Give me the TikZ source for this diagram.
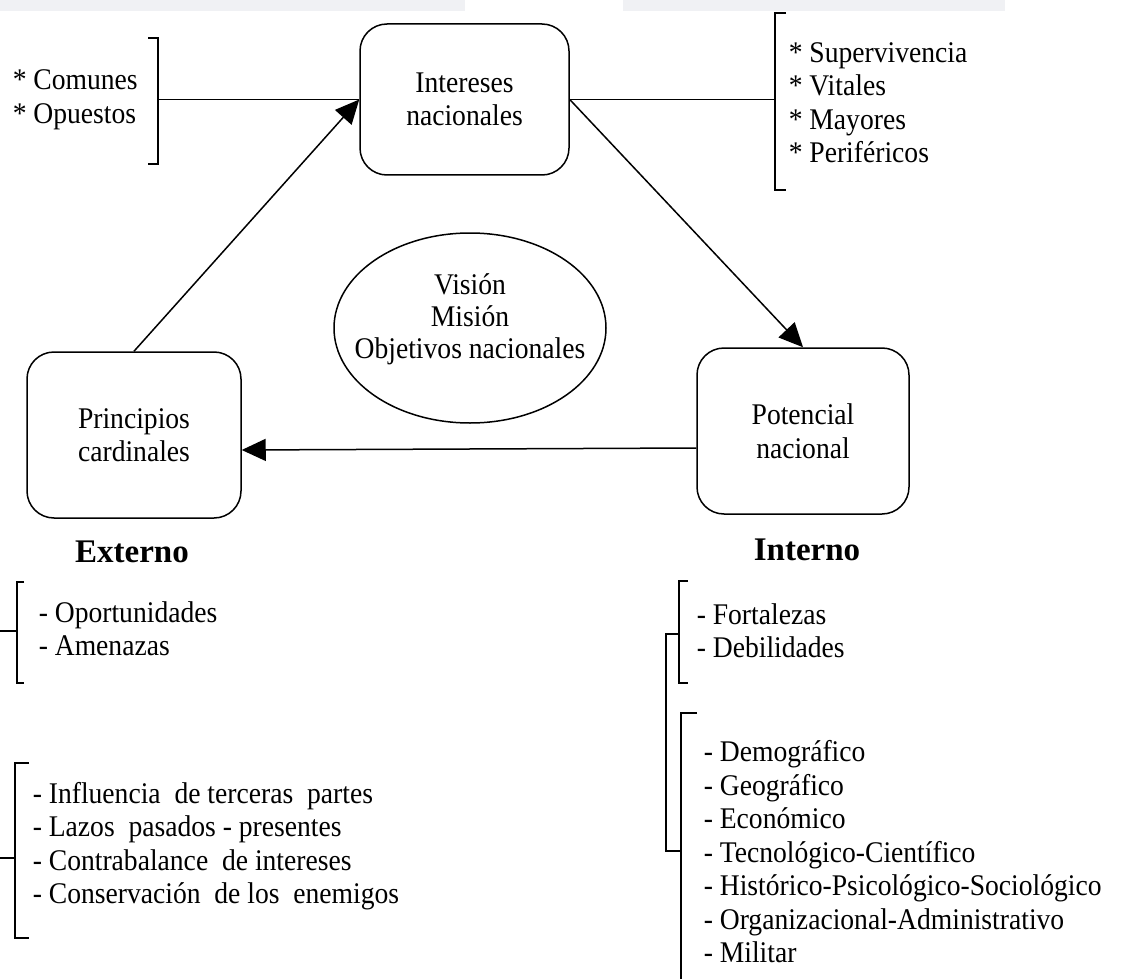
\documentclass[tikz,border=0pt]{standalone}
\usepackage{fontspec}
\setmainfont{Liberation Serif}[FakeStretch=0.92]
\newfontfamily\headfont{Liberation Serif}
\usetikzlibrary{shapes.geometric,arrows.meta}
\definecolor{bandgray}{RGB}{240,241,244}
\begin{document}
\begin{tikzpicture}[x=1pt,y=-1pt,
  line width=1.5pt,
  every node/.style={font=\fontsize{30}{33.5}\selectfont, inner sep=0pt},
  box/.style={draw, rounded corners=27pt, align=center},
  arr/.style={-{Triangle[length=24pt,width=22pt]}},
  listtext/.style={anchor=west, align=left},
  heading/.style={font=\headfont\bfseries\fontsize{33}{36}\selectfont}]
\useasboundingbox (0,0) rectangle (1122,979);

% faint header band
\fill[bandgray] (0,0) rectangle (465,11);
\fill[bandgray] (623,0) rectangle (1005,11);

% main boxes
\node[box, minimum width=209pt, minimum height=151pt] (int) at (464.5,99.5) {Intereses\\nacionales};
\node[box, minimum width=214pt, minimum height=166pt] (pri) at (134,435) {Principios\\cardinales};
\node[box, minimum width=212pt, minimum height=166pt] (pot) at (803,431) {Potencial\\nacional};

% central ellipse
\node[draw, ellipse, minimum width=272pt, minimum height=190pt] (vmo) at (470,328) {};
\node[align=center, font=\fontsize{30}{32}\selectfont] (vmotext) at ([yshift=9pt]vmo.center) {Visión\\Misión\\Objetivos nacionales};

% cycle of arrows
\draw[arr] (pri.north) -- (int.west);
\draw[arr] (int.east) -- (pot.north);
\draw[arr] ([yshift=-17pt]pot.west) -- ([yshift=-15pt]pri.east);

% interest types (left)
\node[listtext] (comunes) at (12,100) {* Comunes\\* Opuestos};
\draw (148,38) -- (158,38) -- (158,164) -- (148,164);
\coordinate (tl) at (158,99.5);
\draw (tl) -- (int.west);

% interest levels (right)
\node[listtext] (niveles) at (788,102.5) {* Supervivencia\\* Vitales\\* Mayores\\* Periféricos};
\draw (786,13) -- (775,13) -- (775,190) -- (786,190);
\coordinate (tr) at (775,99.5);
\draw (int.east) -- (tr);

% headings
\node[heading] (externo) at (132,552) {Externo};
\node[heading] (interno) at (807,550) {Interno};

% external factors
\node[listtext] (ext1) at (38,628.5) {- Oportunidades\\- Amenazas};
\draw (24,582) -- (17,582) -- (17,683) -- (24,683);
\draw (0,631) -- (17,631);

\node[listtext] (ext2) at (32,846) {- Influencia\ \ de terceras\ \ partes\\- Lazos\ \ pasados - presentes\\- Contrabalance\ \ de intereses\\- Conservación\ \ de los\ \ enemigos};
\draw (29,763) -- (15,763) -- (15,938) -- (29,938);
\draw (0,858) -- (15,858);

% internal factors
\node[listtext] (int1) at (696,630.5) {- Fortalezas\\- Debilidades};
\draw (688,581) -- (679,581) -- (679,683) -- (688,683);
\draw (679,634) -- (666,634) -- (666,851) -- (681,851);

\node[listtext] (int2) at (703,852) {- Demográfico\\- Geográfico\\- Económico\\- Tecnológico-Científico\\- Histórico-Psicológico-Sociológico\\- Organizacional-Administrativo\\- Militar};
\draw (697,713) -- (681,713) -- (681,979);
\end{tikzpicture}
\end{document}
